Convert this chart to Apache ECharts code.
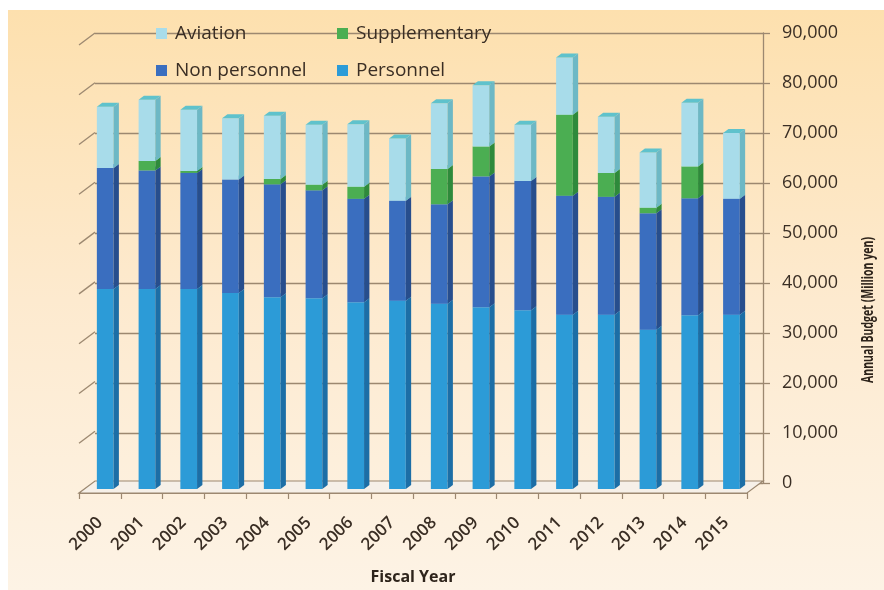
<!DOCTYPE html>
<html>
<head>
<meta charset="utf-8">
<script src="https://cdn.jsdelivr.net/npm/echarts@6/dist/echarts.min.js"></script>
<style>
  html, body { margin: 0; padding: 0; background: #ffffff; }
  #chart { width: 884px; height: 590px; }
</style>
</head>
<body>
<div id="chart"></div>
<script>
// Annual budget by fiscal year (million yen), stacked by component
const years = ['2000', '2001', '2002', '2003', '2004', '2005', '2006', '2007',
               '2008', '2009', '2010', '2011', '2012', '2013', '2014', '2015'];
const personnel     = [40200, 40200, 40200, 39400, 38500, 38300, 37500, 37800,
                       37200, 36500, 35900, 35000, 35000, 32000, 34900, 35000];
const nonPersonnel  = [24300, 23800, 23300, 22800, 22700, 21700, 20800, 20100,
                       20000, 26300, 26000, 23900, 23700, 23400, 23500, 23300];
const supplementary = [0, 1900, 400, 0, 1100, 1100, 2400, 0,
                       7100, 6000, 0, 16300, 4800, 1100, 6400, 0];
const aviation      = [12300, 12300, 12300, 12300, 12700, 12100, 12600, 12500,
                       13200, 12300, 11300, 11500, 11300, 11100, 12800, 13200];
const yTicks = [0, 10000, 20000, 30000, 40000, 50000, 60000, 70000, 80000, 90000];

// Stack order from the floor upwards
const stackSeries = [
  { name: 'Personnel',     values: personnel,     face: { front: '#2c9bd7', side: '#1c6ea6', top: '#52b3e2' } },
  { name: 'Non personnel', values: nonPersonnel,  face: { front: '#3a6ebf', side: '#274e8d', top: '#5a88cd' } },
  { name: 'Supplementary', values: supplementary, face: { front: '#4bae52', side: '#2e8a3b', top: '#6cc272' } },
  { name: 'Aviation',      values: aviation,      face: { front: '#a8dcea', side: '#6db8c5', top: '#5fc2cc' } }
];

// Oblique depth of the floor (front edge -> back wall), in pixels
const DEPTH_X = 16, DEPTH_Y = -12;
const GRID_COLOR = '#9c8870';
const TEXT_COLOR = '#3a2e24';
const FONT = '"Open Sans", "Noto Sans", sans-serif';

const front = { left: 79, right: 137, top: 45, bottom: 95 };
const back = {
  left: front.left + DEPTH_X, right: front.right - DEPTH_X,
  top: front.top + DEPTH_Y, bottom: front.bottom - DEPTH_Y
};

function barSegment(face) {
  return function (params, api) {
    const idx = api.value(0), lo = api.value(1), hi = api.value(2);
    if (!(hi > lo)) return null;
    const dx = DEPTH_X / 3, dy = DEPTH_Y / 3;
    const cx = api.coord([idx, 0])[0];
    const bw = api.size([1, 0])[0] * 0.4;
    const x0 = cx - bw / 2 + dx, x1 = x0 + bw;
    const yb = api.coord([idx, lo])[1] + dy;
    const yt = api.coord([idx, hi])[1] + dy;
    return {
      type: 'group',
      children: [
        { type: 'rect', shape: { x: x0, y: yt, width: bw, height: yb - yt },
          style: { fill: face.front } },
        { type: 'polygon', shape: { points: [[x1, yb], [x1, yt], [x1 + dx, yt + dy], [x1 + dx, yb + dy]] },
          style: { fill: face.side } },
        { type: 'polygon', shape: { points: [[x0, yt], [x1, yt], [x1 + dx, yt + dy], [x0 + dx, yt + dy]] },
          style: { fill: face.top } }
      ]
    };
  };
}

// Floor slab and the slanted lines of the left wall
function frameItem(params, api) {
  const cs = params.coordSys;
  const y0 = cs.y + cs.height;
  const xl = cs.x, xr = cs.x + cs.width;
  const children = [{
    type: 'polygon',
    shape: { points: [[xl, y0], [xr, y0], [xr + DEPTH_X, y0 + DEPTH_Y], [xl + DEPTH_X, y0 + DEPTH_Y]] },
    style: { fill: '#f6f0e8', stroke: GRID_COLOR, lineWidth: 1.2 }
  }];
  yTicks.forEach(function (v) {
    if (v === 0) return;
    const y = api.coord([0, v])[1];
    children.push({
      type: 'line',
      shape: { x1: xl, y1: y, x2: xl + DEPTH_X, y2: y + DEPTH_Y },
      style: { stroke: GRID_COLOR, lineWidth: 1.3 }
    });
  });
  return { type: 'group', children: children };
}

const series = [{
  type: 'custom',
  name: 'frame',
  xAxisIndex: 0, yAxisIndex: 0,
  silent: true, z: 1,
  renderItem: frameItem,
  data: [[0]]
}];

const running = years.map(function () { return 0; });
stackSeries.forEach(function (s) {
  const data = s.values.map(function (v, i) {
    const lo = running[i];
    running[i] += v;
    return [i, lo, running[i]];
  });
  series.push({
    type: 'custom',
    name: s.name,
    xAxisIndex: 0, yAxisIndex: 0,
    z: 3,
    itemStyle: { color: s.face.front },
    encode: { x: 0, y: [1, 2] },
    renderItem: barSegment(s.face),
    data: data
  });
});

const legendBase = {
  icon: 'rect', itemWidth: 11, itemHeight: 11, selectedMode: false,
  textStyle: { color: TEXT_COLOR, fontSize: 19, fontFamily: FONT, padding: [0, 0, 0, 3] }
};

const option = {
  backgroundColor: '#ffffff',
  animation: false,
  graphic: [
    {
      type: 'rect', z: -10, silent: true,
      shape: { x: 8, y: 10, width: 876, height: 580 },
      style: {
        fill: new echarts.graphic.LinearGradient(0, 0, 0, 1, [
          { offset: 0, color: '#fde0ae' },
          { offset: 0.5, color: '#fdeacf' },
          { offset: 1, color: '#fdf3e5' }
        ])
      }
    },
    {
      type: 'text', x: 868, y: 310, rotation: Math.PI / 2, scaleX: 0.66, silent: true,
      style: {
        text: 'Annual Budget (Million yen)',
        font: 'bold 16px "Open Sans", "Noto Sans", sans-serif',
        fill: '#2e241b', align: 'center', verticalAlign: 'middle'
      }
    }
  ],
  legend: [
    Object.assign({ data: ['Aviation'],      left: 151, top: 19 }, legendBase),
    Object.assign({ data: ['Supplementary'], left: 332, top: 19 }, legendBase),
    Object.assign({ data: ['Non personnel'], left: 151, top: 56 }, legendBase),
    Object.assign({ data: ['Personnel'],     left: 332, top: 56 }, legendBase)
  ],
  grid: [
    Object.assign({ containLabel: false }, front),
    Object.assign({ containLabel: false }, back)
  ],
  xAxis: [
    {
      type: 'category', gridIndex: 0, data: years,
      axisLine: { show: true, lineStyle: { color: GRID_COLOR, width: 1.2 } },
      axisTick: { show: true, length: 6, lineStyle: { color: GRID_COLOR, width: 1.2 } },
      axisLabel: { rotate: 45, margin: 27, color: TEXT_COLOR, fontSize: 17, fontFamily: FONT, fontWeight: 600 },
      name: 'Fiscal Year', nameLocation: 'middle', nameGap: 76,
      nameTextStyle: { color: '#2e241b', fontSize: 16, fontWeight: 'bold', fontFamily: FONT }
    },
    { type: 'category', gridIndex: 1, data: years, show: false }
  ],
  yAxis: [
    { type: 'value', gridIndex: 0, min: yTicks[0], max: yTicks[yTicks.length - 1],
      interval: yTicks[1] - yTicks[0], show: false, splitLine: { show: false } },
    {
      type: 'value', gridIndex: 1, position: 'right',
      min: yTicks[0], max: yTicks[yTicks.length - 1], interval: yTicks[1] - yTicks[0],
      axisLine: { show: true, lineStyle: { color: GRID_COLOR, width: 1.3 } },
      axisTick: { show: true, length: 7, lineStyle: { color: GRID_COLOR, width: 1.3 } },
      axisLabel: {
        margin: 19, color: TEXT_COLOR, fontSize: 18, fontFamily: FONT,
        formatter: function (v) { return v.toLocaleString('en-US'); }
      },
      splitLine: { show: true, lineStyle: { color: GRID_COLOR, width: 1.3 } }
    }
  ],
  series: series
};

const chart = echarts.init(document.getElementById('chart'), null, { renderer: 'canvas' });
chart.setOption(option);
</script>
</body>
</html>
